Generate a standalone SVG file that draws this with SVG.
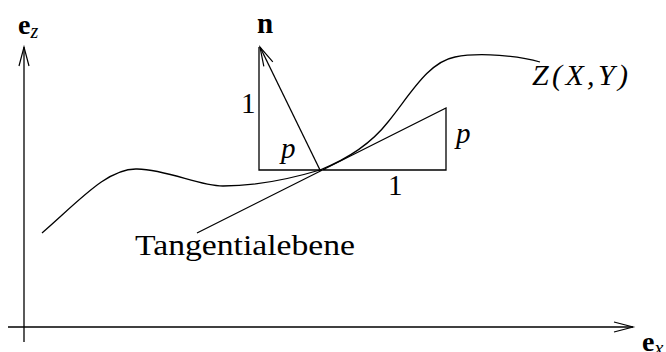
<svg xmlns="http://www.w3.org/2000/svg" width="666" height="352" viewBox="0 0 666 352">
<style>
.ln{fill:none;stroke:#000;stroke-width:1.3}
.tx{font-family:"Liberation Serif","DejaVu Serif",serif;fill:#000}
</style>
<defs>
<marker id="ah" markerUnits="userSpaceOnUse" markerWidth="30" markerHeight="14" refX="0" refY="0" viewBox="-22 -7 24 14" orient="auto" overflow="visible">
<path d="M-19,-5 L0,0 L-19,5" fill="none" stroke="#000" stroke-width="1.2"/>
</marker>
</defs>
<rect width="666" height="352" fill="#fff"/>
<g id="connectors">
<line class="ln" x1="24" y1="342" x2="24" y2="47" marker-end="url(#ah)"/>
<line class="ln" x1="8" y1="327" x2="633" y2="327" marker-end="url(#ah)"/>
<line class="ln" x1="320" y1="170" x2="260" y2="47" marker-end="url(#ah)"/>
<path class="ln" d="M259,47 L259,170 L446,170 L446,108 L197,233"/>
</g>
<g id="surface">
<path class="ln" d="M42,233 C80,200 108,168 137,169 C170,170 198,186 223,186 C260,186 300,176 320,170 C345,160 370,145 388,122 C410,95 428,62 455,57 C480,52 520,56 540,62"/>
</g>
<g id="label-ez"><text class="tx" x="18" y="34" font-size="28" font-weight="bold">e<tspan dy="4" font-style="italic" font-weight="normal" font-size="20">z</tspan></text></g>
<g id="label-n"><text class="tx" x="257" y="33" font-size="29" font-weight="bold">n</text></g>
<g id="label-ex"><text class="tx" x="642" y="351" font-size="28" font-weight="bold">e<tspan dy="4" font-style="italic" font-weight="normal" font-size="20">x</tspan></text></g>
<g id="label-1v"><text class="tx" x="241" y="113" font-size="29">1</text></g>
<g id="label-p1"><text class="tx" x="281" y="158" font-size="29" font-style="italic">p</text></g>
<g id="label-1h"><text class="tx" x="388" y="195" font-size="29">1</text></g>
<g id="label-p2"><text class="tx" x="456" y="143" font-size="29" font-style="italic">p</text></g>
<g id="label-z"><text class="tx" x="532" y="85" font-size="30" font-style="italic" textLength="96" lengthAdjust="spacing">Z(X,Y)</text></g>
<g id="label-tangent"><text class="tx" x="135" y="255" font-size="30" textLength="220" lengthAdjust="spacingAndGlyphs">Tangentialebene</text></g>
</svg>
